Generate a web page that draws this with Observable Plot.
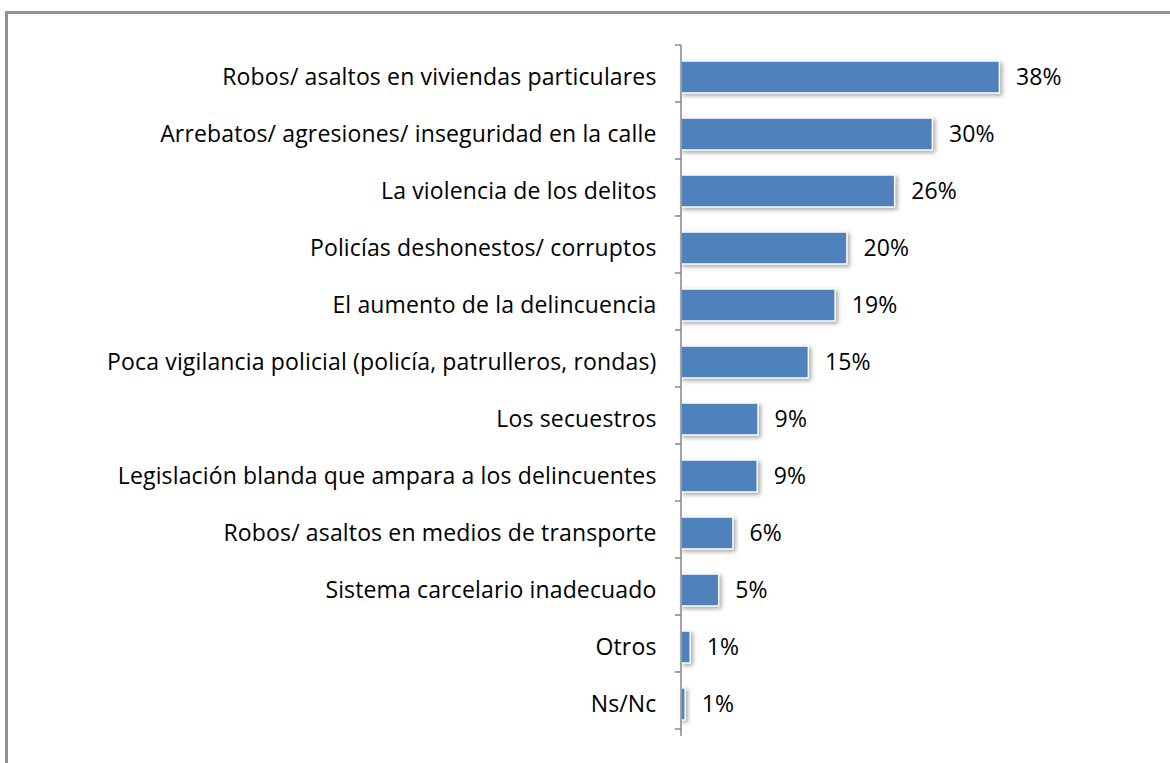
<!DOCTYPE html>
<html>
<head>
<meta charset="utf-8">
<script src="https://cdn.jsdelivr.net/npm/d3@7"></script>
<script src="https://cdn.jsdelivr.net/npm/@observablehq/plot@0.6"></script>
<style>
  html, body { margin: 0; padding: 0; background: #fff; overflow: hidden; }
  #wrap { position: relative; width: 1170px; height: 763px; }
  #frame { position: absolute; left: 5px; top: 11px; width: 1300px; height: 900px; border: 3px solid #939393; box-sizing: border-box; }
  #chart { position: absolute; left: 0; top: 0; }
  #chart text { letter-spacing: 0.15px; }
</style>
</head>
<body>
<div id="wrap"><div id="frame"></div><div id="chart"></div></div>
<script>
const categories = [
  "Robos/ asaltos en viviendas particulares",
  "Arrebatos/ agresiones/ inseguridad en la calle",
  "La violencia de los delitos",
  "Policías deshonestos/ corruptos",
  "El aumento de la delincuencia",
  "Poca vigilancia policial (policía, patrulleros, rondas)",
  "Los secuestros",
  "Legislación blanda que ampara a los delincuentes",
  "Robos/ asaltos en medios de transporte",
  "Sistema carcelario inadecuado",
  "Otros",
  "Ns/Nc"
];
const values = [38, 30, 25.5, 19.8, 18.4, 15.2, 9.2, 9.1, 6.2, 4.5, 1.1, 0.5];
const valueLabels = ["38%", "30%", "26%", "20%", "19%", "15%", "9%", "9%", "6%", "5%", "1%", "1%"];

const data = categories.map((c, i) => ({cat: c, value: values[i], label: valueLabels[i]}));

const FONT = "'Open Sans', 'Liberation Sans', Arial, sans-serif";
const chart = Plot.plot({
  width: 1170,
  height: 763,
  marginLeft: 681,
  marginRight: 70,
  marginTop: 45,
  marginBottom: 27,
  style: {fontFamily: FONT, fontSize: "23px", color: "#000", background: "transparent"},
  x: {domain: [0, 50], axis: null},
  y: {domain: categories, paddingInner: 0.44, paddingOuter: 0.22, label: null, axis: null},
  marks: [
    Plot.barX(data, {x: "value", y: "cat", fill: "#4f81bd", stroke: "#fff", strokeWidth: 1.5}),
    Plot.text(data, {x: "value", y: "cat", text: "label", textAnchor: "start", dx: 16, fontSize: 23, fill: "#000"}),
    Plot.axisY({tickSize: 0, tickPadding: 25, fontSize: 23, label: null, fill: "#000"})
  ]
});

// bar shadow
d3.select(chart).selectAll("g[aria-label='bar']").style("filter", "drop-shadow(2px 2px 2px rgba(0,0,0,0.35))");

// axis line and ticks at band boundaries, from the y scale
const ys = chart.scale("y");
const y0 = ys.range[0], y1 = ys.range[1];
const step = ys.step;
const xs = chart.scale("x");
const ax = xs.apply(0);
const g = d3.select(chart).append("g").attr("stroke", "#868686").attr("stroke-width", 1.5);
g.append("line").attr("x1", ax).attr("x2", ax).attr("y1", y0).attr("y2", y1);
for (let i = 0; i <= categories.length; i++) {
  const yy = y0 + i * step;
  g.append("line").attr("x1", ax - 6).attr("x2", ax).attr("y1", yy).attr("y2", yy);
}
document.getElementById("chart").appendChild(chart);
</script>
</body>
</html>
